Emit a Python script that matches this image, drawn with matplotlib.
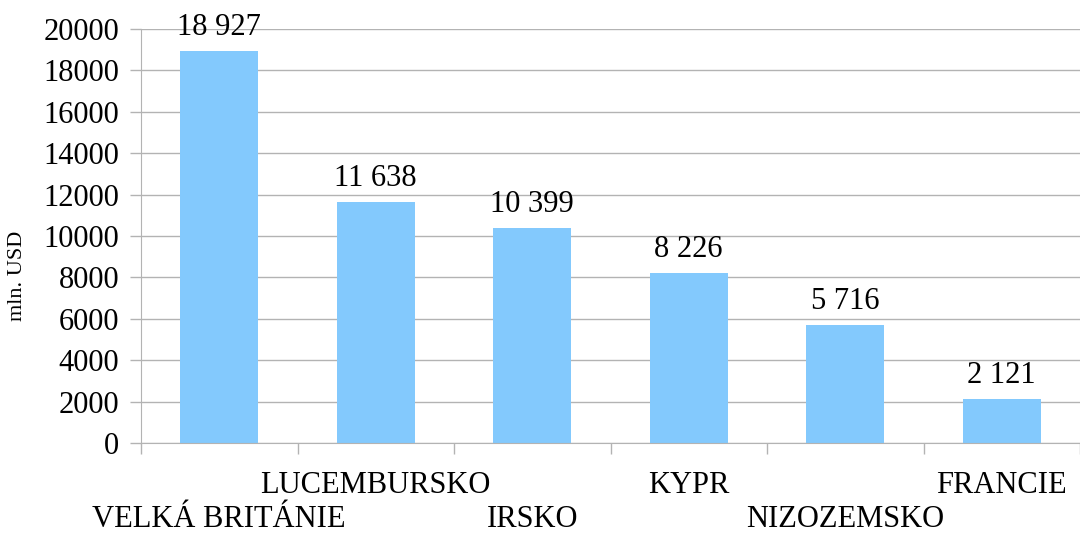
import matplotlib
matplotlib.use("Agg")
import matplotlib.pyplot as plt
import matplotlib.transforms as mtransforms
import numpy as np

categories = ["VELKÁ BRITÁNIE", "LUCEMBURSKO", "IRSKO", "KYPR", "NIZOZEMSKO", "FRANCIE"]
values = [18927, 11638, 10399, 8226, 5716, 2121]
value_labels = ["18 927", "11 638", "10 399", "8 226", "5 716", "2 121"]
yticks = [0, 2000, 4000, 6000, 8000, 10000, 12000, 14000, 16000, 18000, 20000]

plt.rcParams['font.family'] = ['Liberation Serif', 'DejaVu Serif']

fig = plt.figure(figsize=(10.8, 5.33), dpi=100)
ax = fig.add_axes([141/1080, 1 - 443/533, 1 - 141/1080, (443 - 29)/533])

x = np.arange(len(categories))
bar_color = '#83C9FD'
grid_color = '#b3b3b3'
ax.bar(x, values, width=0.5, color=bar_color, zorder=2)

for xi, v, lab in zip(x, values, value_labels):
    ax.annotate(lab, (xi, v), xytext=(0, 6.5), textcoords='offset points',
                ha='center', va='bottom', fontsize=22)

ax.set_xlim(-0.5, len(categories) - 0.5)
ax.set_ylim(0, 20000)
ax.set_yticks(yticks)
ax.set_yticklabels([str(t) for t in yticks], fontsize=22)
ax.yaxis.grid(True, color=grid_color, linewidth=1.0, zorder=0)
ax.set_axisbelow(True)

# category labels, staggered in two rows
ax.set_xticks(x)
ax.set_xticklabels([])
ax.tick_params(axis='x', which='major', length=0)
trans = mtransforms.blended_transform_factory(ax.transData, ax.transAxes)
row_y = [-(527 - 443) / 414, -(493 - 443) / 414]
for i, c in enumerate(categories):
    ax.text(x[i], row_y[i % 2], c, transform=trans, ha='center', va='baseline',
            fontsize=22, clip_on=False)

ax.set_xticks(np.arange(len(categories) + 1) - 0.5, minor=True)
ax.tick_params(axis='x', which='minor', length=8, color=grid_color, width=1)
ax.tick_params(axis='y', length=8, color=grid_color, width=1, pad=7.5)

for s in ['top', 'right']:
    ax.spines[s].set_visible(False)
ax.spines['left'].set_color(grid_color)
ax.spines['bottom'].set_color(grid_color)

fig.text(18/1080, 1 - 276/533, "mln. USD", rotation=90, ha='center', va='center', fontsize=16)

fig.savefig("out.png", dpi=100)
